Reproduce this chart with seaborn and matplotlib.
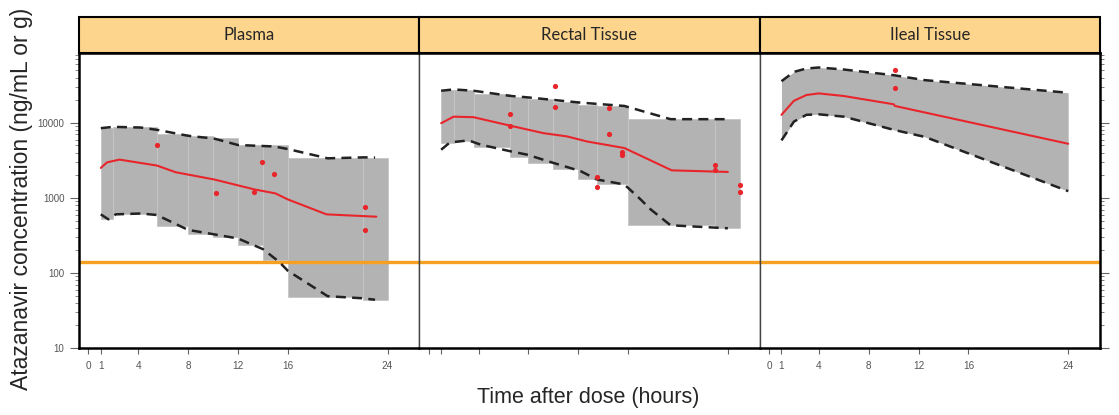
import numpy as np
import matplotlib
matplotlib.use("Agg")
import matplotlib.pyplot as plt
import matplotlib.ticker as mticker
from matplotlib.patches import Rectangle
import seaborn as sns

# ---- data ----
panels = ['Plasma', 'Rectal Tissue', 'Ileal Tissue']
x_ticks = [0, 1, 4, 8, 12, 16, 24]
ic_line = 140

# Plasma
plasma_bin_edges = [1, 2, 5.5, 8, 10, 12, 14, 16, 22, 24]
plasma_bin_hi = [8500, 8800, 7000, 6600, 6200, 5100, 5000, 3400, 3400]
plasma_bin_lo = [520, 620, 420, 330, 300, 235, 150, 48, 44]
plasma_up_t = [1, 2, 4.2, 5.5, 8, 10.1, 12, 14.9, 16, 19.2, 22.1, 23]
plasma_up = [8500, 8850, 8670, 8080, 6730, 6170, 5070, 4850, 4480, 3370, 3470, 3450]
plasma_lo_t = [1, 1.6, 2.2, 4.2, 5.5, 8, 10, 12, 14, 15.3, 16, 19.2, 22, 23]
plasma_lo = [604, 519, 604, 620, 592, 375, 329, 288, 208, 141, 107, 49, 46, 44]
plasma_med_t = [1, 1.5, 2.5, 5.5, 7, 10.1, 13.3, 15, 16, 19.1, 23.1]
plasma_med = [2510, 2980, 3240, 2700, 2200, 1760, 1300, 1150, 955, 604, 562]
plasma_obs_t = [5.5, 10.2, 13.3, 13.9, 14.9, 22.2, 22.2]
plasma_obs = [5000, 1180, 1210, 3040, 2090, 755, 375]

# Rectal tissue
rectal_bin_edges = [1, 2, 3.6, 6.5, 8, 10, 12, 13.5, 16, 23, 25]
rectal_bin_hi = [27000, 27000, 24000, 22000, 20500, 19000, 17500, 16800, 11200, 11200]
rectal_bin_lo = [5400, 5800, 4700, 3500, 2900, 2400, 1800, 1550, 430, 395]
rectal_up_t = [1, 2, 3.6, 6.6, 7.9, 10, 12.2, 15.7, 19.4, 24]
rectal_up = [26800, 27900, 26800, 22800, 21900, 20200, 18600, 16800, 11200, 11200]
rectal_lo_t = [1, 1.7, 3.2, 4.2, 6.6, 7.9, 10, 12.2, 13.5, 15.7, 17, 17.8, 19.4, 24]
rectal_lo = [4390, 5480, 5840, 5110, 4170, 3770, 2930, 2270, 1760, 1510, 955, 705, 432, 394]
rectal_med_t = [1, 2, 3.6, 6.6, 9.2, 11.1, 12.7, 15.7, 19.5, 24]
rectal_med = [9900, 12100, 11900, 9130, 7300, 6600, 5650, 4620, 2330, 2220]
rectal_obs_t = [6.5, 6.5, 10.15, 10.15, 13.5, 13.5, 14.5, 14.5, 15.5, 15.5, 23, 23, 25, 25]
rectal_obs = [13300, 9130, 30900, 16400, 1890, 1410, 15600, 7150, 4050, 3740, 2720, 2320, 1470, 1190]

# Ileal tissue
ileal_band_t = [1, 2, 3, 4, 6, 10, 12.5, 24]
ileal_up = [35900, 47800, 53000, 54700, 51400, 43200, 37100, 25200]
ileal_lo = [5840, 10400, 12800, 13000, 12100, 8080, 6500, 1230]
ileal_med_t = [1, 2, 3, 4, 6, 10, 10.1, 24]
ileal_med = [12800, 19700, 23500, 24700, 22800, 17700, 16800, 5270]
ileal_obs_t = [10.1, 10.1]
ileal_obs = [50300, 29400]

# ---- style ----
sns.set_style("white")
plt.rcParams['font.family'] = ['Liberation Sans', 'DejaVu Sans']

RED = '#e8252b'
GREY = '#b3b3b3'
ORANGE = '#f5a021'
STRIP = '#fed58d'

fig, axes = plt.subplots(1, 3, figsize=(11.19, 4.15), dpi=100, sharey=True)
fig.subplots_adjust(left=0.0706, right=0.983, bottom=0.1614, top=0.872, wspace=0)


def draw_bins(ax, edges, lo, hi):
    edges = np.asarray(edges)
    ax.bar(edges[:-1], np.asarray(hi) - np.asarray(lo), width=np.diff(edges),
           bottom=lo, align='edge', color=GREY, edgecolor='#c6c6c6',
           linewidth=0.6, zorder=1)


def draw_lines(ax, up_t, up, lo_t, lo, med_t, med, obs_t, obs):
    for t, v in [(up_t, up), (lo_t, lo)]:
        sns.lineplot(x=t, y=v, ax=ax, color='#222222', linewidth=1.8,
                     linestyle=(0, (4, 2.5)), estimator=None, sort=False, zorder=3)
    sns.lineplot(x=med_t, y=med, ax=ax, color=RED, linewidth=1.5,
                 estimator=None, sort=False, zorder=4)
    sns.scatterplot(x=obs_t, y=obs, ax=ax, color=RED, s=14, linewidth=0, zorder=5)


ax1, ax2, ax3 = axes
draw_bins(ax1, plasma_bin_edges, plasma_bin_lo, plasma_bin_hi)
draw_lines(ax1, plasma_up_t, plasma_up, plasma_lo_t, plasma_lo,
           plasma_med_t, plasma_med, plasma_obs_t, plasma_obs)

draw_bins(ax2, rectal_bin_edges, rectal_bin_lo, rectal_bin_hi)
draw_lines(ax2, rectal_up_t, rectal_up, rectal_lo_t, rectal_lo,
           rectal_med_t, rectal_med, rectal_obs_t, rectal_obs)

ax3.fill_between(ileal_band_t, ileal_lo, ileal_up, color=GREY, linewidth=0, zorder=1)
draw_lines(ax3, ileal_band_t, ileal_up, ileal_band_t, ileal_lo,
           ileal_med_t, ileal_med, ileal_obs_t, ileal_obs)

for i, (ax, name) in enumerate(zip(axes, panels)):
    ax.axhline(ic_line, color=ORANGE, linewidth=2.4, zorder=2)
    ax.set_yscale('log')
    ax.set_ylim(10, 85000)
    ax.set_xlim(-0.75, 26.55)
    ax.set_xlabel('')
    ax.set_ylabel('')
    ax.set_xticks(x_ticks)
    ax.tick_params(axis='x', direction='out', length=4, width=0.8, color='#666666',
                   labelsize=7.2, labelcolor='#555555', pad=5, bottom=True)
    if i == 1:
        ax.tick_params(axis='x', labelbottom=False)
    # spines
    for s in ax.spines.values():
        s.set_color('black')
        s.set_linewidth(1.8)
    if i > 0:
        ax.spines['left'].set_linewidth(1.0)
        ax.spines['left'].set_color('#444444')
    if i < 2:
        ax.spines['right'].set_linewidth(1.0)
        ax.spines['right'].set_color('#444444')
    # strip
    ax.add_patch(Rectangle((0, 1.0), 1, 36 / 295, transform=ax.transAxes,
                           facecolor=STRIP, edgecolor='black', linewidth=1.5,
                           clip_on=False, zorder=6))
    ax.text(0.5, 1.0 + 18 / 295, name, transform=ax.transAxes, ha='center',
            va='center', fontsize=12, family=['Lato', 'DejaVu Sans'], zorder=7)

ax1.yaxis.set_major_locator(mticker.LogLocator(base=10, numticks=10))
ax1.yaxis.set_minor_locator(mticker.LogLocator(base=10, subs=np.arange(2, 10), numticks=20))
ax1.yaxis.set_major_formatter(mticker.FuncFormatter(lambda v, p: f'{int(round(v))}'))
ax1.yaxis.set_minor_formatter(mticker.NullFormatter())
ax1.tick_params(axis='y', which='major', left=True, direction='out', length=6.5,
                width=0.8, color='#666666', labelsize=7, labelcolor='#555555', pad=4)
ax1.tick_params(axis='y', which='minor', left=True, direction='out', length=3,
                width=0.6, color='#777777')
ax2.tick_params(axis='y', which='both', left=False, right=False)
ax3.tick_params(axis='y', which='both', left=False, right=True, labelright=False,
                direction='out', color='#666666')
ax3.tick_params(axis='y', which='major', length=6.5, width=0.8)
ax3.tick_params(axis='y', which='minor', length=3, width=0.6)

fig.text(0.019, 0.52, 'Atazanavir concentration (ng/mL or g)', rotation=90,
         ha='center', va='center', fontsize=16.5)
fig.text(0.526, 0.041, 'Time after dose (hours)', ha='center', va='center', fontsize=15.5)

fig.savefig('out.png', dpi=100)
